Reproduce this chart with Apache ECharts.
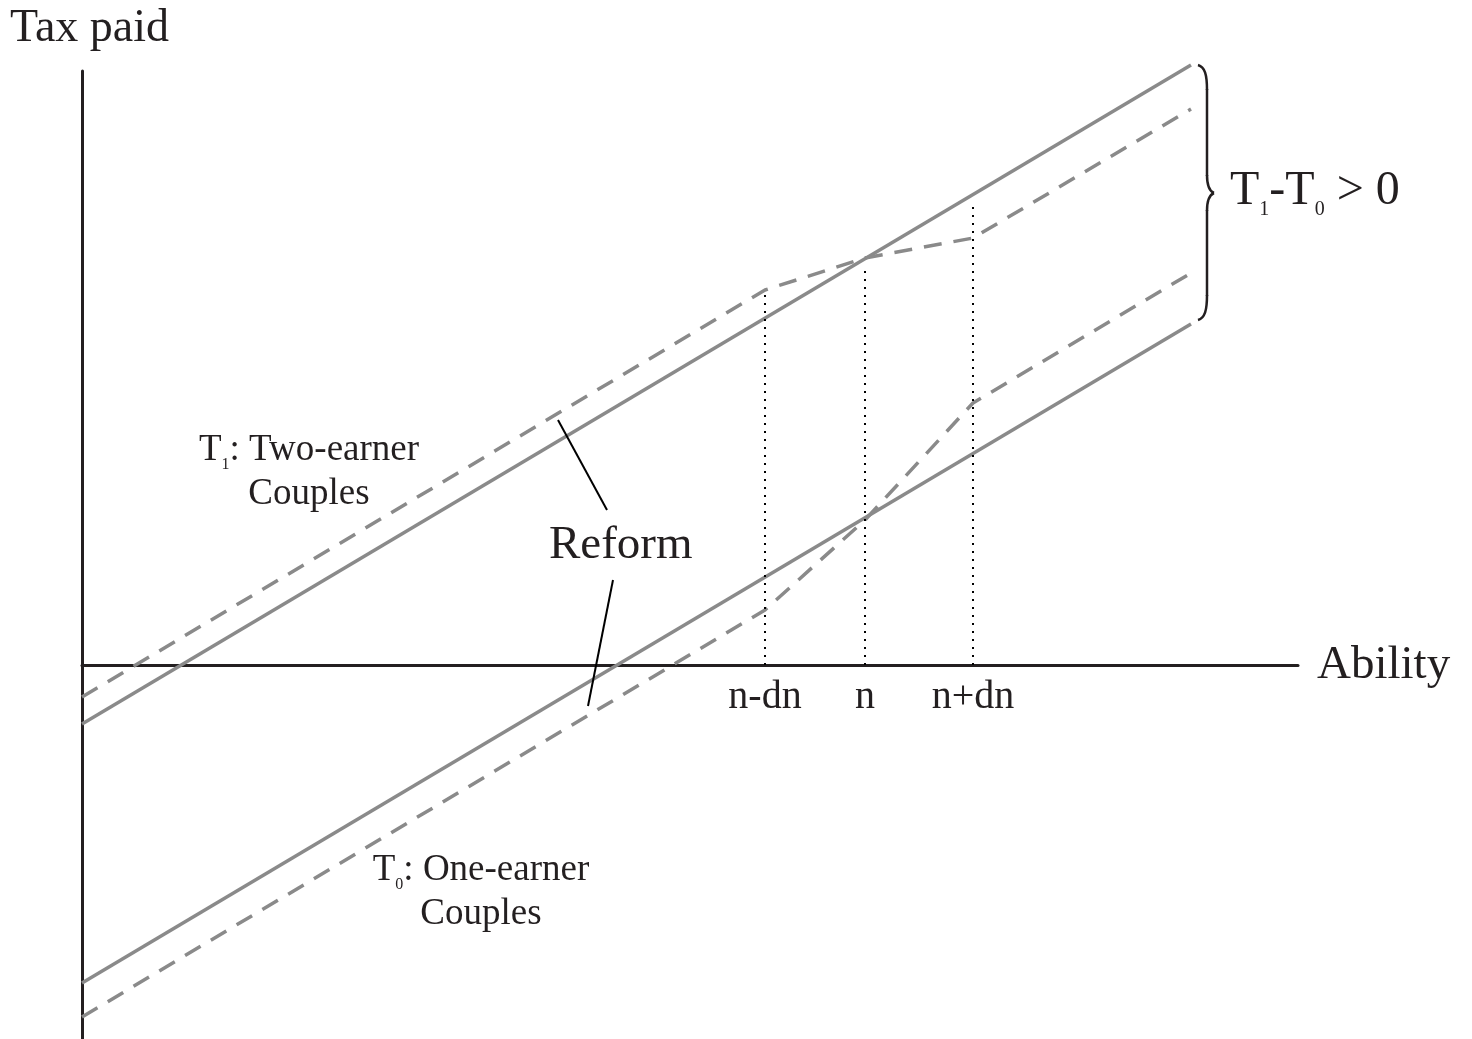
<!DOCTYPE html>
<html>
<head>
<meta charset="utf-8">
<title>Tax paid vs Ability</title>
<script src="https://cdn.jsdelivr.net/npm/echarts@6/dist/echarts.min.js"></script>
<style>
    html, body { margin: 0; padding: 0; background: #fff; }
    #main { width: 1472px; height: 1039px; }
</style>
</head>
<body>
<div id="main"></div>
<script>
    // 数据（单位：横轴 ability，纵轴 tax paid）
    var abilityMarks = [6.83, 7.83, 8.91];      // n-dn, n, n+dn
    var markLabels = ['n-dn', 'n', 'n+dn'];
    var markTops = [3.75, 3.98, 4.62];          // 点线竖线的顶端
    var straightX = [0, 11.09];
    var t1Before = [-0.59, 6.00];               // T1 原税表
    var t0Before = [-3.18, 3.41];               // T0 原税表
    var reformX = [0, 6.83, 7.83, 8.91, 11.09];
    var t1After = [-0.32, 3.75, 4.07, 4.27, 5.56];  // T1 改革后
    var t0After = [-3.52, 0.55, 1.45, 2.62, 3.92];  // T0 改革后
    var pointerUpper = [[4.76, 2.45], [5.25, 1.55]];
    var pointerLower = [[5.31, 0.85], [5.06, -0.41]];

    var ink = '#231f20';
    var gray = '#8a8a8a';
    var serif = '"Liberation Serif", "Times New Roman", serif';

    function pairs(xs, ys) {
        return xs.map(function (x, i) { return [x, ys[i]]; });
    }

    function grayLine(name, data, dashed) {
        return {
            name: name,
            type: 'line',
            data: data,
            symbol: 'none',
            clip: false,
            silent: true,
            lineStyle: { color: gray, width: 3.5, type: dashed ? [18, 12] : 'solid' }
        };
    }

    var myChart = echarts.init(document.getElementById('main'));

    var series = [
        grayLine('T1', pairs(straightX, t1Before), false),
        grayLine('T0', pairs(straightX, t0Before), false),
        grayLine('T1 reform', pairs(reformX, t1After), true),
        grayLine('T0 reform', pairs(reformX, t0After), true)
    ];

    // 竖直点线
    abilityMarks.forEach(function (x, i) {
        series.push({
            type: 'line',
            data: [[x, 0], [x, markTops[i]]],
            symbol: 'none',
            silent: true,
            lineStyle: { color: '#000', width: 2, type: [2, 6] }
        });
    });

    // 横轴下方的 n-dn / n / n+dn
    series.push({
        type: 'scatter',
        silent: true,
        symbolSize: 0,
        itemStyle: { opacity: 1, color: ink },
        data: abilityMarks.map(function (x, i) {
            return { value: [x, 0], name: markLabels[i] };
        }),
        label: {
            show: true,
            position: 'bottom',
            distance: 12,
            formatter: '{b}',
            color: ink,
            fontFamily: serif,
            fontSize: 40,
            lineHeight: 40
        }
    });

    // Reform 指示线
    [pointerUpper, pointerLower].forEach(function (d) {
        series.push({
            type: 'line',
            data: d,
            symbol: 'none',
            clip: false,
            silent: true,
            z: 3,
            lineStyle: { color: '#000', width: 2 }
        });
    });

    // 右侧大括号（像素）
    var braceStyle = { fill: null, stroke: ink, lineWidth: 2.5 };
    var brace = [
        { type: 'bezierCurve', shape: { x1: 1198, y1: 65, cpx1: 1205, cpy1: 67, cpx2: 1207, cpy2: 75, x2: 1207, y2: 90 }, style: braceStyle },
        { type: 'line', shape: { x1: 1207, y1: 89, x2: 1207, y2: 176 }, style: braceStyle },
        { type: 'bezierCurve', shape: { x1: 1207, y1: 175, cpx1: 1207, cpy1: 186, cpx2: 1209, cpy2: 191, x2: 1214, y2: 193 }, style: braceStyle },
        { type: 'bezierCurve', shape: { x1: 1214, y1: 193, cpx1: 1209, cpy1: 195, cpx2: 1207, cpy2: 200, x2: 1207, y2: 211 }, style: braceStyle },
        { type: 'line', shape: { x1: 1207, y1: 210, x2: 1207, y2: 296 }, style: braceStyle },
        { type: 'bezierCurve', shape: { x1: 1207, y1: 295, cpx1: 1207, cpy1: 310, cpx2: 1205, cpy2: 318, x2: 1198, y2: 320 }, style: braceStyle }
    ];

    var texts = [
        {
            type: 'text', x: 10, y: 28.5,
            style: { text: 'Tax paid', fontFamily: serif, fontSize: 46, fill: ink, verticalAlign: 'middle' }
        },
        {
            type: 'text', x: 1317, y: 666,
            style: { text: 'Ability', fontFamily: serif, fontSize: 47, fill: ink, verticalAlign: 'middle' }
        },
        {
            type: 'text', x: 549, y: 546,
            style: { text: 'Reform', fontFamily: serif, fontSize: 47, fill: ink, verticalAlign: 'middle' }
        },
        {
            type: 'text', x: 309, y: 472.5,
            style: {
                text: '{m|T}{s|1}{m|: Two-earner}\n{m|Couples}',
                align: 'center', verticalAlign: 'middle', fill: ink,
                rich: {
                    m: { fontFamily: serif, fontSize: 37, lineHeight: 44, fill: ink },
                    s: { fontFamily: serif, fontSize: 16, lineHeight: 17, verticalAlign: 'bottom', fill: ink }
                }
            }
        },
        {
            type: 'text', x: 481, y: 892.5,
            style: {
                text: '{m|T}{s|0}{m|: One-earner}\n{m|Couples}',
                align: 'center', verticalAlign: 'middle', fill: ink,
                rich: {
                    m: { fontFamily: serif, fontSize: 37, lineHeight: 44, fill: ink },
                    s: { fontFamily: serif, fontSize: 16, lineHeight: 17, verticalAlign: 'bottom', fill: ink }
                }
            }
        },
        {
            type: 'text', x: 1230, y: 191,
            style: {
                text: '{m|T}{s|1}{m|-T}{s|0}{m| > 0}',
                verticalAlign: 'middle', fill: ink,
                rich: {
                    m: { fontFamily: serif, fontSize: 48, lineHeight: 58, fill: ink },
                    s: { fontFamily: serif, fontSize: 20, lineHeight: 20, verticalAlign: 'bottom', fill: ink }
                }
            }
        }
    ];

    var option = {
        animation: false,
        grid: { left: 82, right: 174, top: 71, bottom: 0, outerBoundsMode: 'none', containLabel: false },
        xAxis: {
            type: 'value',
            min: 0,
            max: 12.16,
            axisLine: { onZero: true, lineStyle: { color: ink, width: 3 } },
            axisTick: { show: false },
            axisLabel: { show: false },
            splitLine: { show: false }
        },
        yAxis: {
            type: 'value',
            min: -3.74,
            max: 5.94,
            axisLine: { show: true, onZero: true, lineStyle: { color: ink, width: 3 } },
            axisTick: { show: false },
            axisLabel: { show: false },
            splitLine: { show: false }
        },
        series: series,
        graphic: texts.concat(brace)
    };

    myChart.setOption(option);
    window.addEventListener('resize', function () {
        myChart.resize();
    });
</script>
</body>
</html>
